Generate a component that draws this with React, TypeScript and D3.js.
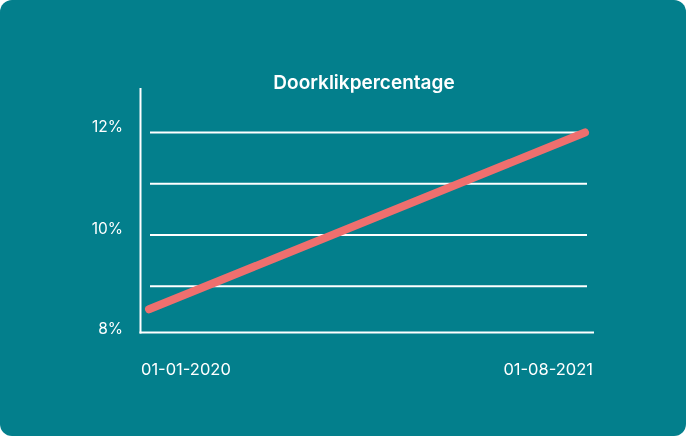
import React from "react";
import * as d3 from "d3";

const dates = ["2020-01-01", "2021-08-01"];
const values = [8.55, 12];
const yTicks = [8, 10, 12];
const gridValues = [9, 10, 11, 12];
const xTickLabels = ["01-01-2020", "01-08-2021"];
const title = "Doorklikpercentage";

const W = 686;
const H = 436;

export default function App() {
  const parse = d3.timeParse("%Y-%m-%d");
  const pts = dates.map((d, i) => ({ date: parse(d) as Date, value: values[i] }));
  const x = d3
    .scaleTime()
    .domain(d3.extent(pts, (p) => p.date) as [Date, Date])
    .range([149, 585]);
  const y = d3.scaleLinear().domain([8, 12]).range([337.5, 132.5]);
  const line = d3
    .line<{ date: Date; value: number }>()
    .x((p) => x(p.date))
    .y((p) => y(p.value));
  const font = "Inter, 'Open Sans', sans-serif";
  const axisX = 140.5;
  const axisBottom = 332.5;
  return (
    <div style={{ position: "fixed", left: 0, top: 0, width: W, height: H }}>
      <svg width={W} height={H} style={{ display: "block" }}>
        <rect x={0} y={0} width={W} height={H} rx={12} ry={12} fill="#037F8C" />
        <text
          x={364}
          y={89}
          textAnchor="middle"
          fill="#fff"
          fontFamily={font}
          fontWeight={600}
          fontSize={19}
        >
          {title}
        </text>
        {gridValues.map((v) => (
          <line
            key={v}
            x1={150}
            x2={587}
            y1={y(v)}
            y2={y(v)}
            stroke="#fff"
            strokeWidth={2}
          />
        ))}
        <line x1={axisX} x2={axisX} y1={88} y2={axisBottom + 1} stroke="#fff" strokeWidth={2} />
        <line x1={axisX - 1} x2={594} y1={axisBottom} y2={axisBottom} stroke="#fff" strokeWidth={2} />
        {yTicks.map((v) => (
          <text
            key={v}
            x={123}
            y={y(v) - (v === 8 ? 9 : 6)}
            dy="0.35em"
            textAnchor="end"
            fill="#fff"
            fontFamily={font}
            fontSize={15.5}
          >
            {v}%
          </text>
        ))}
        {xTickLabels.map((t, i) => (
          <text
            key={t}
            x={i === 0 ? 141 : 593}
            y={375}
            textAnchor={i === 0 ? "start" : "end"}
            fill="#fff"
            fontFamily={font}
            fontSize={16.5}
          >
            {t}
          </text>
        ))}
        <path
          d={line(pts) || ""}
          fill="none"
          stroke="#EF6F6E"
          strokeWidth={8}
          strokeLinecap="round"
        />
      </svg>
    </div>
  );
}
